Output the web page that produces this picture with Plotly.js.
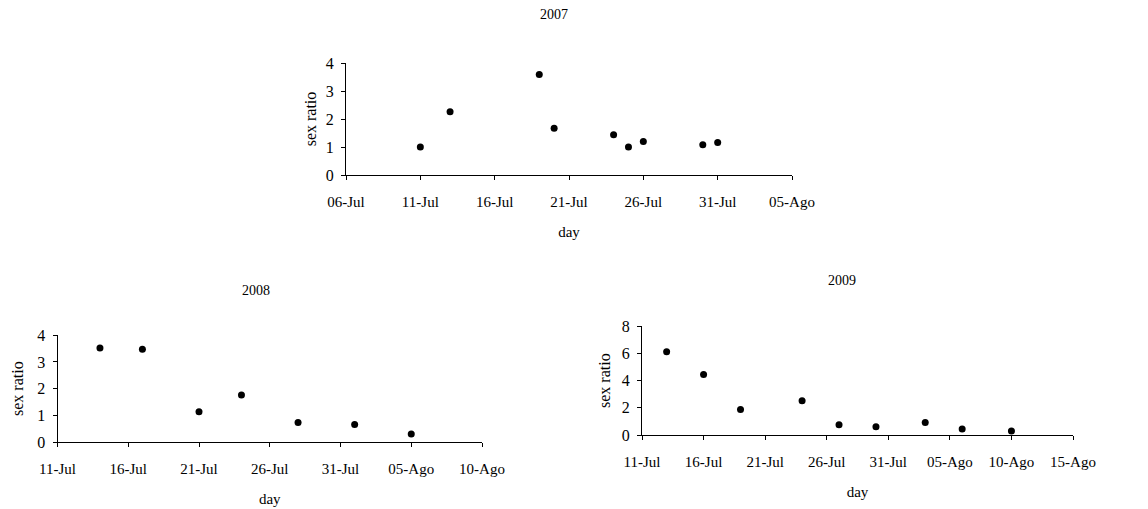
<!DOCTYPE html>
<html>
<head>
<meta charset="utf-8">
<script src="https://cdn.plot.ly/plotly-3.0.1.min.js"></script>
<style>html,body{margin:0;padding:0;background:#fff}#chart{width:1148px;height:509px}</style>
</head>
<body>
<div id="chart"></div>
<script>
// ---- data ----
var days2007 = ['2007-07-11','2007-07-13','2007-07-19','2007-07-20','2007-07-24','2007-07-25','2007-07-26','2007-07-30','2007-07-31'];
var ratio2007 = [1.0, 2.26, 3.59, 1.67, 1.44, 1.0, 1.2, 1.08, 1.16];
var days2008 = ['2008-07-14','2008-07-17','2008-07-21','2008-07-24','2008-07-28','2008-08-01','2008-08-05'];
var ratio2008 = [3.52, 3.48, 1.13, 1.76, 0.73, 0.66, 0.3];
var days2009 = ['2009-07-13','2009-07-16','2009-07-19','2009-07-24','2009-07-27','2009-07-30','2009-08-03','2009-08-06','2009-08-10'];
var ratio2009 = [6.12, 4.45, 1.88, 2.52, 0.76, 0.6, 0.92, 0.44, 0.3];

var tickVals2007 = ['2007-07-06','2007-07-11','2007-07-16','2007-07-21','2007-07-26','2007-07-31','2007-08-05'];
var tickText2007 = ['06-Jul','11-Jul','16-Jul','21-Jul','26-Jul','31-Jul','05-Ago'];
var tickVals2008 = ['2008-07-11','2008-07-16','2008-07-21','2008-07-26','2008-07-31','2008-08-05','2008-08-10'];
var tickText2008 = ['11-Jul','16-Jul','21-Jul','26-Jul','31-Jul','05-Ago','10-Ago'];
var tickVals2009 = ['2009-07-11','2009-07-16','2009-07-21','2009-07-26','2009-07-31','2009-08-05','2009-08-10','2009-08-15'];
var tickText2009 = ['11-Jul','16-Jul','21-Jul','26-Jul','31-Jul','05-Ago','10-Ago','15-Ago'];

var yMax2007 = 4, yMax2008 = 4, yMax2009 = 8;
var yStep2007 = 1, yStep2008 = 1, yStep2009 = 2;

// ---- styling ----
var FONT = 'Liberation Serif, Times New Roman, serif';
var mk = {color: '#000', size: 7};

var traces = [
  {x: days2007, y: ratio2007, type: 'scatter', mode: 'markers', marker: mk, xaxis: 'x', yaxis: 'y', name: '2007'},
  {x: days2008, y: ratio2008, type: 'scatter', mode: 'markers', marker: mk, xaxis: 'x2', yaxis: 'y2', name: '2008'},
  {x: days2009, y: ratio2009, type: 'scatter', mode: 'markers', marker: mk, xaxis: 'x3', yaxis: 'y3', name: '2009'}
];

function xax(dom, anchor, vals, text) {
  return {
    type: 'date', domain: dom, anchor: anchor,
    range: [vals[0], vals[vals.length - 1]],
    tickmode: 'array', tickvals: vals, ticktext: text,
    showgrid: false, zeroline: false, showline: true, linecolor: '#000', linewidth: 1,
    ticks: 'outside', ticklen: 4, tickcolor: '#000', ticklabelstandoff: 9,
    tickfont: {family: FONT, size: 15, color: '#000'},
    title: {text: 'day', font: {family: FONT, size: 15, color: '#000'}, standoff: 17},
    automargin: false, fixedrange: true
  };
}
function yax(dom, anchor, max, step, so) {
  return {
    domain: dom, anchor: anchor, range: [0, max], dtick: step, tick0: 0,
    showgrid: false, zeroline: false, showline: true, linecolor: '#000', linewidth: 1,
    ticks: 'outside', ticklen: 4, tickcolor: '#000', ticklabelstandoff: 4,
    tickfont: {family: FONT, size: 16, color: '#000'},
    title: {text: 'sex ratio', font: {family: FONT, size: 16, color: '#000'}, standoff: so},
    automargin: false, fixedrange: true
  };
}

var layout = {
  width: 1148, height: 509,
  margin: {l: 0, r: 0, t: 0, b: 0},
  paper_bgcolor: '#fff', plot_bgcolor: '#fff',
  showlegend: false,
  font: {family: FONT, color: '#000'},
  xaxis: xax([346/1148, 792/1148], 'y', tickVals2007, tickText2007),
  yaxis: yax([(509-175)/509, (509-63)/509], 'x', yMax2007, yStep2007, 5),
  xaxis2: xax([57.5/1148, 482/1148], 'y2', tickVals2008, tickText2008),
  yaxis2: yax([(509-442)/509, (509-335.3)/509], 'x2', yMax2008, yStep2008, 9),
  xaxis3: xax([642/1148, 1073/1148], 'y3', tickVals2009, tickText2009),
  yaxis3: yax([(509-435)/509, (509-326.3)/509], 'x3', yMax2009, yStep2009, 7),
  annotations: [
    {text: '2007', xref: 'paper', yref: 'paper', x: 554/1148, y: 1 - 15/509, showarrow: false, font: {family: FONT, size: 14, color: '#000'}, xanchor: 'center', yanchor: 'middle'},
    {text: '2008', xref: 'paper', yref: 'paper', x: 256/1148, y: 1 - 290/509, showarrow: false, font: {family: FONT, size: 14, color: '#000'}, xanchor: 'center', yanchor: 'middle'},
    {text: '2009', xref: 'paper', yref: 'paper', x: 842/1148, y: 1 - 280/509, showarrow: false, font: {family: FONT, size: 14, color: '#000'}, xanchor: 'center', yanchor: 'middle'}
  ]
};

Plotly.newPlot('chart', traces, layout, {displayModeBar: false, staticPlot: true});
</script>
</body>
</html>
